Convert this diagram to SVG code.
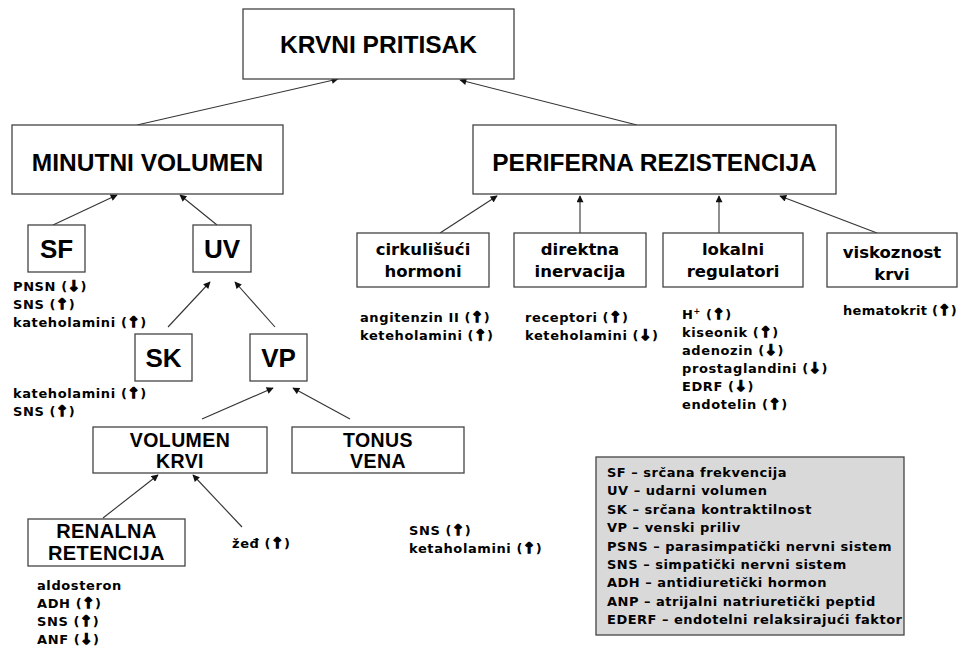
<svg xmlns="http://www.w3.org/2000/svg" width="962" height="648" viewBox="0 0 962 648">
<style>
.box{fill:#fff;stroke:#444;stroke-width:1.3}
.legend{fill:#d9d9d9;stroke:#444;stroke-width:1.3}
.title{font-family:"Liberation Sans",Arial,sans-serif;font-weight:bold;font-size:24.5px;fill:#000;text-anchor:middle}
.abbr{font-family:"Liberation Sans",Arial,sans-serif;font-weight:bold;font-size:26px;fill:#000;text-anchor:middle}
.cap{font-family:"Liberation Sans",Arial,sans-serif;font-weight:bold;font-size:19.5px;letter-spacing:0.4px;fill:#000;text-anchor:middle}
.lbl{font-family:"DejaVu Sans",Verdana,sans-serif;font-weight:bold;font-size:16.5px;fill:#000;text-anchor:middle}
.note{font-family:"DejaVu Sans",Verdana,sans-serif;font-weight:bold;font-size:13px;letter-spacing:0.6px;fill:#000}
.ar{stroke:#000;stroke-width:1.4px;font-size:14.5px}
.conn line{stroke:#333;stroke-width:1.1;marker-end:url(#ah)}
</style>
<defs>
<marker id="ah" viewBox="0 0 10 10" refX="9" refY="5" markerWidth="8" markerHeight="7" markerUnits="userSpaceOnUse" orient="auto">
<path d="M0,0 L10,5 L0,10 z" fill="#111"/>
</marker>
</defs>
<rect width="962" height="648" fill="#fff"/>
<g id="connectors" class="conn">
<line x1="137" y1="125" x2="338" y2="79"/>
<line x1="637" y1="125" x2="460" y2="80"/>
<line x1="53" y1="225" x2="117" y2="195"/>
<line x1="217" y1="225" x2="180" y2="195"/>
<line x1="168" y1="327" x2="210" y2="282"/>
<line x1="275" y1="327" x2="235" y2="282"/>
<line x1="202" y1="419" x2="273" y2="388"/>
<line x1="350" y1="419" x2="293" y2="388"/>
<line x1="103" y1="518" x2="158" y2="475"/>
<line x1="242" y1="527" x2="193" y2="475"/>
<line x1="440" y1="233" x2="497" y2="196"/>
<line x1="580" y1="233" x2="580" y2="196"/>
<line x1="719" y1="233" x2="719" y2="196"/>
<line x1="877" y1="233" x2="780" y2="196"/>
</g>
<g id="krvni-pritisak"><rect class="box" x="243" y="9" width="271" height="70"/><text class="title" x="378.5" y="53">KRVNI PRITISAK</text></g>
<g id="minutni-volumen"><rect class="box" x="12" y="125" width="271" height="69"/><text class="title" x="147.5" y="171">MINUTNI VOLUMEN</text></g>
<g id="periferna-rezistencija"><rect class="box" x="473" y="125" width="363" height="69"/><text class="title" x="654.5" y="171">PERIFERNA REZISTENCIJA</text></g>
<g id="sf"><rect class="box" x="28" y="225" width="57" height="47"/><text class="abbr" x="56.5" y="258">SF</text>
<text class="note"><tspan x="13" y="291">PNSN (<tspan class="ar">↓</tspan>)</tspan><tspan x="13" y="309">SNS (<tspan class="ar">↑</tspan>)</tspan><tspan x="13" y="327">kateholamini (<tspan class="ar">↑</tspan>)</tspan></text></g>
<g id="uv"><rect class="box" x="193" y="225" width="58" height="47"/><text class="abbr" x="222" y="258">UV</text></g>
<g id="sk"><rect class="box" x="135" y="334" width="57" height="47"/><text class="abbr" x="163.5" y="367">SK</text>
<text class="note"><tspan x="13" y="398">kateholamini (<tspan class="ar">↑</tspan>)</tspan><tspan x="13" y="416">SNS (<tspan class="ar">↑</tspan>)</tspan></text></g>
<g id="vp"><rect class="box" x="250" y="334" width="57" height="47"/><text class="abbr" x="278.5" y="367">VP</text></g>
<g id="volumen-krvi"><rect class="box" x="93" y="427" width="174" height="46"/><text class="cap"><tspan x="180" y="447">VOLUMEN</tspan><tspan x="180" y="468">KRVI</tspan></text></g>
<g id="tonus-vena"><rect class="box" x="292" y="427" width="172" height="46"/><text class="cap"><tspan x="378" y="447">TONUS</tspan><tspan x="378" y="468">VENA</tspan></text>
<text class="note"><tspan x="409" y="535">SNS (<tspan class="ar">↑</tspan>)</tspan><tspan x="409" y="553">ketaholamini (<tspan class="ar">↑</tspan>)</tspan></text></g>
<g id="renalna-retencija"><rect class="box" x="28" y="519" width="157" height="47"/><text class="cap" style="font-size:20px"><tspan x="106.5" y="538">RENALNA</tspan><tspan x="106.5" y="560">RETENCIJA</tspan></text>
<text class="note"><tspan x="37" y="590">aldosteron</tspan><tspan x="37" y="608">ADH (<tspan class="ar">↑</tspan>)</tspan><tspan x="37" y="626">SNS (<tspan class="ar">↑</tspan>)</tspan><tspan x="37" y="644">ANF (<tspan class="ar">↓</tspan>)</tspan></text></g>
<g id="zed"><text class="note"><tspan x="232" y="548">žeđ (<tspan class="ar">↑</tspan>)</tspan></text></g>
<g id="cirkulisuci-hormoni"><rect class="box" x="357" y="233" width="132" height="54"/><text class="lbl"><tspan x="423" y="255">cirkulišući</tspan><tspan x="423" y="277">hormoni</tspan></text>
<text class="note"><tspan x="360" y="322">angitenzin II (<tspan class="ar">↑</tspan>)</tspan><tspan x="360" y="340">keteholamini (<tspan class="ar">↑</tspan>)</tspan></text></g>
<g id="direktna-inervacija"><rect class="box" x="514" y="233" width="132" height="54"/><text class="lbl"><tspan x="580" y="255">direktna</tspan><tspan x="580" y="277">inervacija</tspan></text>
<text class="note"><tspan x="525" y="322">receptori (<tspan class="ar">↑</tspan>)</tspan><tspan x="525" y="340">keteholamini (<tspan class="ar">↓</tspan>)</tspan></text></g>
<g id="lokalni-regulatori"><rect class="box" x="663" y="233" width="140" height="54"/><text class="lbl"><tspan x="733" y="255">lokalni</tspan><tspan x="733" y="277">regulatori</tspan></text>
<text class="note"><tspan x="682" y="319">H<tspan font-size="8" dy="-5">+</tspan><tspan dy="5"> (</tspan><tspan class="ar">↑</tspan>)</tspan><tspan x="682" y="337">kiseonik (<tspan class="ar">↑</tspan>)</tspan><tspan x="682" y="355">adenozin (<tspan class="ar">↓</tspan>)</tspan><tspan x="682" y="373">prostaglandini (<tspan class="ar">↓</tspan>)</tspan><tspan x="682" y="391">EDRF (<tspan class="ar">↓</tspan>)</tspan><tspan x="682" y="409">endotelin (<tspan class="ar">↑</tspan>)</tspan></text></g>
<g id="viskoznost-krvi"><rect class="box" x="827" y="233" width="130" height="54"/><text class="lbl"><tspan x="892" y="258">viskoznost</tspan><tspan x="892" y="280">krvi</tspan></text>
<text class="note" style="letter-spacing:0.3px"><tspan x="843" y="315">hematokrit (<tspan class="ar">↑</tspan>)</tspan></text></g>
<g id="legenda"><rect class="legend" x="596" y="457" width="308" height="178"/>
<text class="note" style="letter-spacing:0.5px"><tspan x="607" y="477">SF – srčana frekvencija</tspan><tspan x="607" y="495">UV – udarni volumen</tspan><tspan x="607" y="514">SK – srčana kontraktilnost</tspan><tspan x="607" y="532">VP – venski priliv</tspan><tspan x="607" y="551">PSNS – parasimpatički nervni sistem</tspan><tspan x="607" y="569">SNS – simpatički nervni sistem</tspan><tspan x="607" y="587">ADH – antidiuretički hormon</tspan><tspan x="607" y="606">ANP – atrijalni natriuretički peptid</tspan><tspan x="607" y="624">EDERF – endotelni relaksirajući faktor</tspan></text></g>
</svg>
